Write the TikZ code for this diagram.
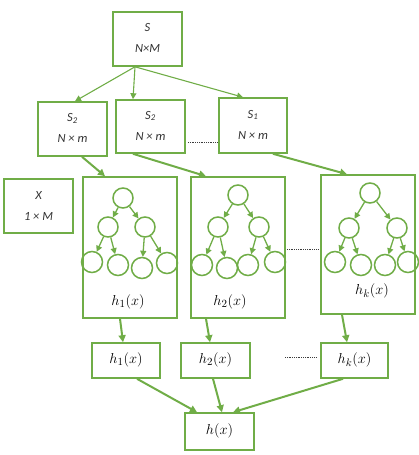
\documentclass[tikz,border=0pt]{standalone}
\usepackage{fontspec}
\newfontfamily\carl{Carlito}
\usetikzlibrary{arrows.meta,calc}
\definecolor{gr}{RGB}{112,173,71}
\definecolor{dotc}{RGB}{60,60,60}
\tikzset{
  box/.style={draw=gr,line width=1.6pt,fill=white,inner sep=0pt,rectangle},
  cir/.style={draw=gr,line width=1.5pt,circle,inner sep=0pt,minimum size=20pt},
  cirb/.style={draw=gr,line width=1.5pt,circle,inner sep=0pt,minimum size=21pt},
  thin arr/.style={draw=gr,line width=1.1pt,-{Triangle[length=6pt,width=6pt]}},
  thick arr/.style={draw=gr,line width=2pt,-{Triangle[length=7pt,width=7pt]}},
  tarr/.style={draw=gr,line width=1.3pt,-{Triangle[length=6pt,width=6pt]}},
  dots/.style={draw=dotc,line width=0.9pt,dash pattern=on 0.9pt off 0.9pt},
  stxt/.style={align=center,text=black!80,font=\carl\itshape\fontsize{12.5}{21}\selectfont},
  htxt/.style={font=\fontsize{15.5}{17}\selectfont},
}
\begin{document}
\begin{tikzpicture}[x=1pt,y=-1pt]
\useasboundingbox (0,0) rectangle (419,455);
% boxes
\node[box,minimum width=69pt,minimum height=54pt] (S) at (147.5,39) {};
\node[stxt] (Stxt) at (147.5,38) {S\\N×M};
\node[box,minimum width=69pt,minimum height=54pt] (S2a) at (72.5,129) {};
\node[stxt] (S2atxt) at (72.5,128) {S\textsubscript{2}\\N × m};
\node[box,minimum width=69pt,minimum height=53pt] (S2b) at (150.5,126.5) {};
\node[stxt] (S2btxt) at (150.5,125.5) {S\textsubscript{2}\\N × m};
\node[box,minimum width=68pt,minimum height=55pt] (S1) at (253,125.5) {};
\node[stxt] (S1txt) at (253,124.5) {S\textsubscript{1}\\N × m};
\node[box,minimum width=69pt,minimum height=54pt] (X) at (38.5,206) {};
\node[stxt] (Xtxt) at (38.5,206) {X\\1 × M};
\node[box,minimum width=94pt,minimum height=141pt] (T1) at (130,247.5) {};
\node[box,minimum width=94pt,minimum height=141pt] (T2) at (238,247.5) {};
\node[box,minimum width=94pt,minimum height=139pt] (Tk) at (368,244.5) {};
\node[box,minimum width=68pt,minimum height=35pt] (H1) at (126,360.5) {};
\node[box,minimum width=69pt,minimum height=35pt] (H2) at (215.5,360.5) {};
\node[box,minimum width=67pt,minimum height=35pt] (Hk) at (354.5,360.5) {};
\node[box,minimum width=69pt,minimum height=37pt] (H) at (219.5,431.5) {};
\node[htxt] (H1txt) at (126,360) {$h_1(x)$};
\node[htxt] (H2txt) at (215.5,360) {$h_2(x)$};
\node[htxt] (Hktxt) at (354.5,360) {$h_k(x)$};
\node[htxt] (Htxt) at (219.5,431) {$h(x)$};
\node[htxt] (T1txt) at (128,302) {$h_1(x)$};
\node[htxt] (T2txt) at (230,302) {$h_2(x)$};
\node[htxt] (Tktxt) at (372,291) {$h_k(x)$};
% trees
\foreach \t/\rx/\ry/\ax/\ay/\bx/\by/\cx/\cy/\dx/\dy/\ex/\ey/\fx/\fy in {
  a/123/198/108/227/145/227/92/262/118/265/142/268/167/263,
  b/238/195/218/227/259/227/202/265/227/268/248/265/275/262,
  c/370/193/349/228/397/228/335/262/361/265/385/265/408/262}{
  \node[cir] (\t r) at (\rx,\ry) {};
  \node[cir] (\t l) at (\ax,\ay) {};
  \node[cir] (\t m) at (\bx,\by) {};
  \node[cirb] (\t 1) at (\cx,\cy) {};
  \node[cirb] (\t 2) at (\dx,\dy) {};
  \node[cirb] (\t 3) at (\ex,\ey) {};
  \node[cirb] (\t 4) at (\fx,\fy) {};
  \draw[tarr] (\t r) -- (\t l);
  \draw[tarr] (\t r) -- (\t m);
  \draw[tarr] (\t l) -- (\t 1);
  \draw[tarr] (\t l) -- (\t 2);
  \draw[tarr] (\t m) -- (\t 3);
  \draw[tarr] (\t m) -- (\t 4);
}
% connectors
\draw[thin arr] ([xshift=-12.5pt]S.south) -- ([xshift=2.5pt]S2a.north);
\draw[thin arr] ([xshift=-12.5pt]S.south) -- ([xshift=-17.5pt]S2b.north);
\draw[thin arr] ([xshift=-12.5pt]S.south) -- ([xshift=-10pt]S1.north);
\draw[thick arr] ([xshift=9.5pt]S2a.south) -- ([xshift=-25pt]T1.north);
\draw[thick arr] ([xshift=-17.5pt]S2b.south) -- ([xshift=-32pt]T2.north);
\draw[thick arr] ([xshift=20pt]S1.south) -- ([xshift=-21pt]Tk.north);
\draw[thick arr] ([xshift=-10pt]T1.south) -- ([xshift=-3pt]H1.north);
\draw[thick arr] ([xshift=-32pt]T2.south) -- ([xshift=-5.5pt]H2.north);
\draw[thick arr] ([xshift=-26pt]Tk.south) -- ([xshift=-7.5pt]Hk.north);
\draw[thick arr] ([xshift=11pt]H1.south) -- ([xshift=-22.5pt]H.north);
\draw[thick arr] ([xshift=-2.5pt]H2.south) -- ([xshift=2.5pt]H.north);
\draw[thick arr] ([xshift=-11.5pt]Hk.south) -- ([xshift=13.5pt]H.north);
% dotted
\coordinate (d1a) at (188,142);
\coordinate (d1b) at (218,142);
\coordinate (d2a) at (287,249);
\coordinate (d2b) at (318,249);
\coordinate (d3a) at (285,357);
\coordinate (d3b) at (317,357);
\draw[dots] (d1a) -- (d1b);
\draw[dots] (d2a) -- (d2b);
\draw[dots] (d3a) -- (d3b);
\end{tikzpicture}
\end{document}
